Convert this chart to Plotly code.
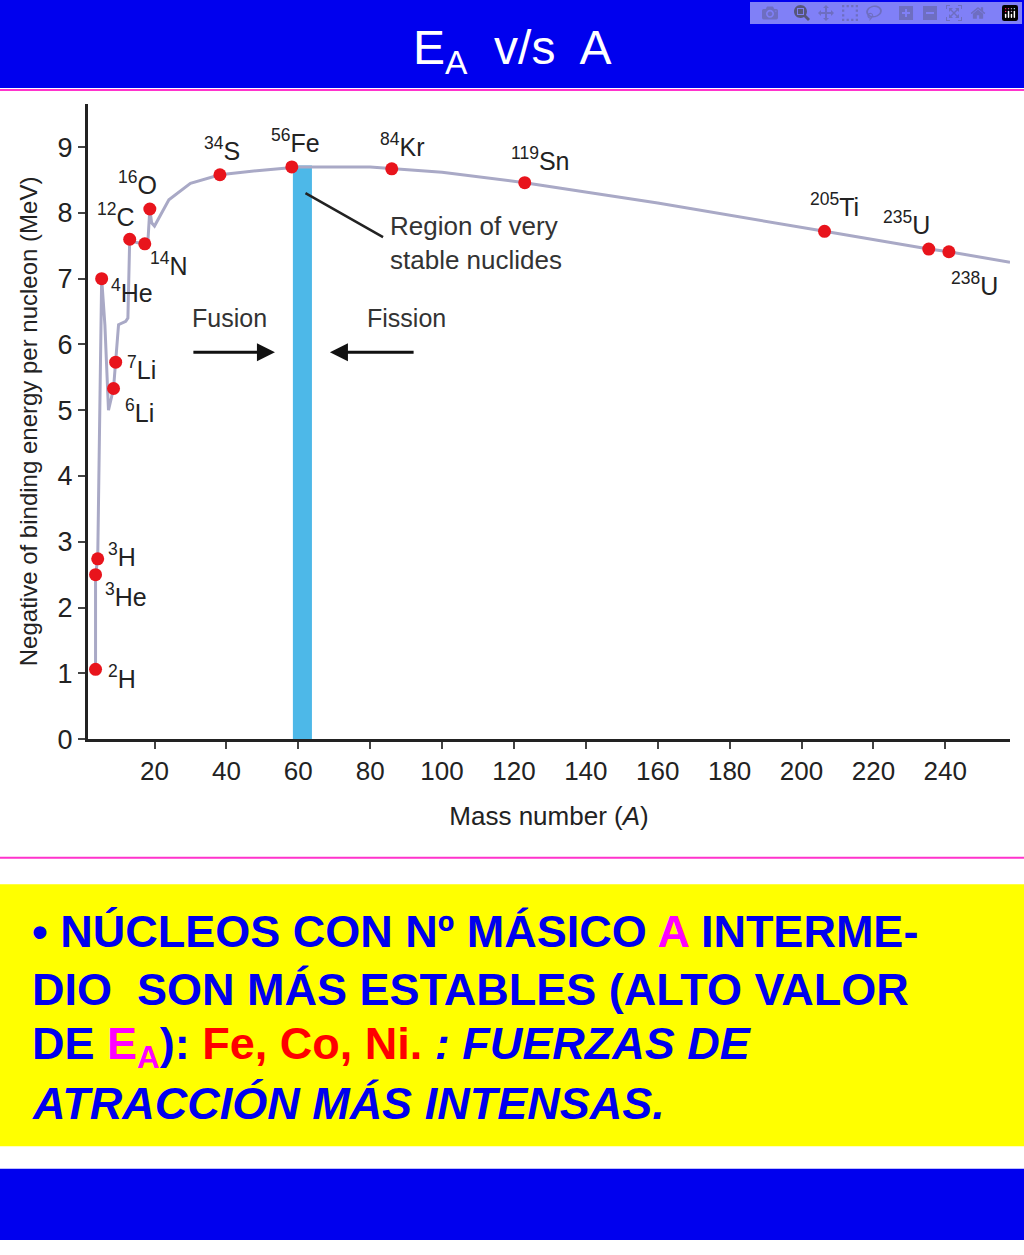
import plotly.graph_objects as go

W, H = 1024, 1255

# nuclide markers (A, -binding energy per nucleon)
nuc_label = ["<sup>2</sup>H", "<sup>3</sup>He", "<sup>3</sup>H", "<sup>4</sup>He", "<sup>6</sup>Li",
             "<sup>7</sup>Li", "<sup>12</sup>C", "<sup>14</sup>N", "<sup>16</sup>O", "<sup>34</sup>S",
             "<sup>56</sup>Fe", "<sup>84</sup>Kr", "<sup>119</sup>Sn", "<sup>205</sup>Ti",
             "<sup>235</sup>U", "<sup>238</sup>U"]
nuc_a = [3.6, 3.6, 4.2, 5.3, 8.6, 9.2, 13.1, 17.3, 18.7, 38.2, 58.2, 86, 123, 206.4, 235.4, 241]
nuc_e = [1.06, 2.5, 2.74, 7.0, 5.33, 5.73, 7.6, 7.53, 8.06, 8.58, 8.7, 8.67, 8.46, 7.72, 7.45, 7.41]
# label offsets in px (dx, dy)
lab_dx = [26, 30, 24, 30, 26, 26, -14, 24, -12, 2, 4, 10, 16, 10, -22, 26]
lab_dy = [8, 20, -4, 12, 22, 6, -24, 20, -26, -26, -26, -24, -24, -26, -26, 32]

# trend curve
curve_a = [3.6, 3.6, 4.2, 5.3, 6.2, 7.2, 8.6, 9.2, 10, 12, 12.6, 13.1, 15, 17.3, 18.2, 18.7, 19.2, 20,
           24, 30, 38.2, 50, 60, 80, 100, 123, 160, 206.4, 235.4, 241, 258]
curve_e = [1.06, 2.5, 2.74, 7.0, 6.3, 5.0, 5.33, 5.73, 6.3, 6.35, 6.4, 7.6, 7.55, 7.53, 7.6, 8.06,
           7.85, 7.8, 8.2, 8.45, 8.58, 8.65, 8.7, 8.7, 8.62, 8.46, 8.15, 7.72, 7.45, 7.41, 7.25]

x_ticks = list(range(20, 241, 20))
y_ticks = list(range(0, 10))

fig = go.Figure()
fig.add_trace(go.Scatter(x=curve_a, y=curve_e, mode="lines",
                         line=dict(color="#a9a9c6", width=3), hoverinfo="skip"))
fig.add_trace(go.Scatter(x=nuc_a, y=nuc_e, mode="markers",
                         marker=dict(color="#e8141c", size=13), hoverinfo="skip"))

for lab, a, e, dx, dy in zip(nuc_label, nuc_a, nuc_e, lab_dx, lab_dy):
    fig.add_annotation(x=a, y=e, text=lab, showarrow=False, xshift=dx, yshift=-dy,
                       xanchor="center", yanchor="middle", font=dict(size=25, color="#222"))

xd = [88 / W, 1010 / W]
yd = [1 - 748 / H, 1 - 105 / H]

fig.update_layout(
    width=W, height=H, margin=dict(l=0, r=0, t=0, b=0),
    paper_bgcolor="white", plot_bgcolor="white", showlegend=False,
    font=dict(family="Liberation Sans, Arial, sans-serif", color="#222"),
    xaxis=dict(domain=xd, range=[1.5, 258], tickvals=x_ticks, showgrid=False, zeroline=False,
               showline=True, linecolor="#222", linewidth=3, ticks="outside", ticklen=7,
               tickwidth=2, tickfont=dict(size=26),
               title=dict(text="Mass number (<i>A</i>)", font=dict(size=26), standoff=22)),
    yaxis=dict(domain=yd, range=[0, 9.66], tickvals=y_ticks, showgrid=False, zeroline=False,
               showline=True, linecolor="#222", linewidth=3, ticks="outside", ticklen=7,
               tickwidth=2, tickfont=dict(size=27),
               title=dict(text="Negative of binding energy per nucleon (MeV)",
                          font=dict(size=24), standoff=14)),
)

# region of very stable nuclides
fig.add_shape(type="rect", xref="x", yref="y", x0=58.5, x1=63.8, y0=0, y1=8.72,
              fillcolor="#4db8e8", line_width=0, layer="below")
fig.add_annotation(x=62, y=8.3, ax=84, ay=7.62, axref="x", ayref="y",
                   text="", showarrow=True, arrowhead=0, arrowwidth=2.5, arrowcolor="#222")
fig.add_annotation(x=85, y=7.55, text="Region of very<br>stable nuclides", showarrow=False,
                   xanchor="left", yanchor="middle", align="left",
                   font=dict(size=26, color="#333"))
# fusion / fission arrows
fig.add_annotation(x=53.5, y=5.88, ax=30.4, ay=5.88, axref="x", ayref="y", text="",
                   showarrow=True, arrowhead=2, arrowsize=1.2, arrowwidth=3, arrowcolor="#111")
fig.add_annotation(x=68.8, y=5.88, ax=92.5, ay=5.88, axref="x", ayref="y", text="",
                   showarrow=True, arrowhead=2, arrowsize=1.2, arrowwidth=3, arrowcolor="#111")
fig.add_annotation(x=41, y=6.4, text="Fusion", showarrow=False, yanchor="middle",
                   font=dict(size=25, color="#333"))
fig.add_annotation(x=90, y=6.4, text="Fission", showarrow=False, yanchor="middle",
                   font=dict(size=25, color="#333"))

# slide decoration
def py(p):
    return 1 - p / H

fig.add_shape(type="rect", xref="paper", yref="paper", x0=0, x1=1, y0=py(89), y1=1,
              fillcolor="#0000ee", line_width=0)
fig.add_shape(type="line", xref="paper", yref="paper", x0=0, x1=1, y0=py(91), y1=py(91),
              line=dict(color="#ff33cc", width=2))
fig.add_shape(type="line", xref="paper", yref="paper", x0=0, x1=1, y0=py(868), y1=py(868),
              line=dict(color="#ff33cc", width=2))
fig.add_shape(type="rect", xref="paper", yref="paper", x0=0, x1=1, y0=py(1160), y1=py(895),
              fillcolor="#ffff00", line_width=0)
fig.add_shape(type="rect", xref="paper", yref="paper", x0=0, x1=1, y0=0, y1=py(1183),
              fillcolor="#0000ee", line_width=0)

fig.add_annotation(xref="paper", yref="paper", x=0.5, y=py(52), showarrow=False,
                   yanchor="middle", text="E<sub>A</sub>  v/s  A",
                   font=dict(size=48, color="white", family="Liberation Sans, Arial"))

B = "#0000ee"
lines = [
    "• NÚCLEOS CON Nº MÁSICO <span style='color:#ff00ff'>A</span> INTERME-",
    "DIO  SON MÁS ESTABLES (ALTO VALOR",
    "DE <span style='color:#ff00ff'>E<sub>A</sub></span>): <span style='color:#ff0000'>Fe, Co, Ni.</span>"
    " <i>: FUERZAS DE</i>",
    "<i>ATRACCIÓN MÁS INTENSAS.</i>",
]
for i, t in enumerate(lines):
    fig.add_annotation(xref="paper", yref="paper", x=30 / W, y=py(943 + 58 * i), showarrow=False,
                       xanchor="left", yanchor="middle", text=f"<b>{t}</b>",
                       font=dict(size=45, color=B, family="Liberation Sans, Arial"))

fig.write_html("out.html", post_script="document.body.style.margin='0';")
